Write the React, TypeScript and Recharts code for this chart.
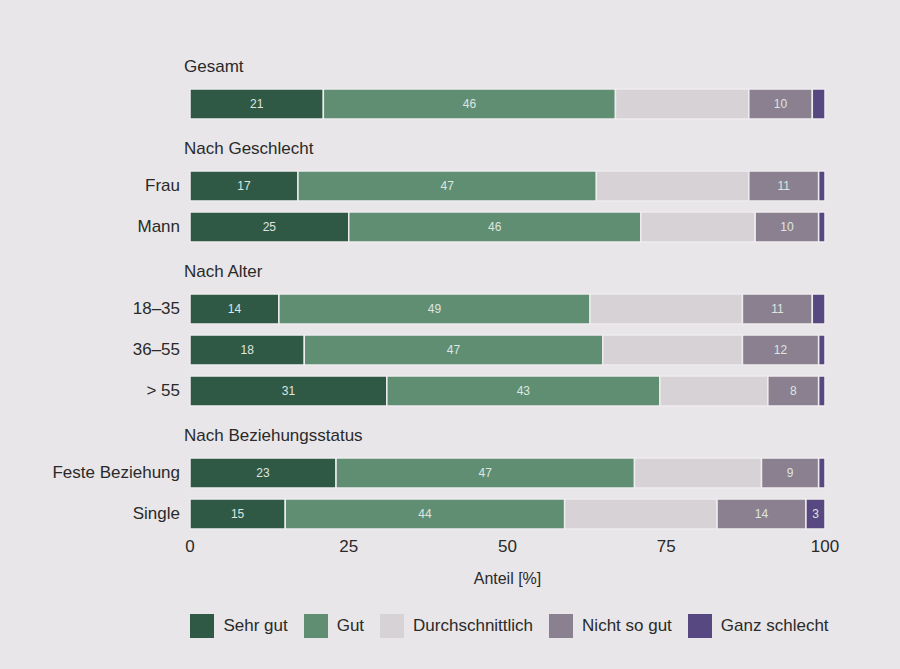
import React from "react";
import { Bar, BarChart, LabelList, Legend, XAxis, YAxis } from "recharts";

// Gruppen und Zeilen (Anteile in %)
const groups = ["Gesamt", "Nach Geschlecht", "Nach Alter", "Nach Beziehungsstatus"];
const rowLabels = ["", "Frau", "Mann", "18–35", "36–55", "> 55", "Feste Beziehung", "Single"];
const rowGroup = [0, 1, 1, 2, 2, 2, 3, 3];

const sehrGut = [21, 17, 25, 14, 18, 31, 23, 15];
const gut = [46, 47, 46, 49, 47, 43, 47, 44];
const durchschnittlich = [21, 24, 18, 24, 22, 17, 20, 24];
const nichtSoGut = [10, 11, 10, 11, 12, 8, 9, 14];
const ganzSchlecht = [2, 1, 1, 2, 1, 1, 1, 3];

const xTicks = [0, 25, 50, 75, 100];

const SERIES = [
  { key: "sehrGut", name: "Sehr gut", color: "#2f5945", label: true },
  { key: "gut", name: "Gut", color: "#5f8e73", label: true },
  { key: "durchschnittlich", name: "Durchschnittlich", color: "#d6d2d5", label: false },
  { key: "nichtSoGut", name: "Nicht so gut", color: "#8a8090", label: true },
  { key: "ganzSchlecht", name: "Ganz schlecht", color: "#574882", label: true },
];

const TEXT = "#2a2a2a";
const FONT = "'Liberation Sans', Arial, sans-serif";

// Kopfzeile je Gruppe, danach die Balkenzeilen
type Row = { id: string; label: string; header: boolean; [k: string]: any };
const rows: Row[] = [];
groups.forEach((g, gi) => {
  rows.push({ id: "h" + gi, label: g, header: true });
  rowLabels.forEach((lab, i) => {
    if (rowGroup[i] !== gi) return;
    rows.push({
      id: "r" + i,
      label: lab,
      header: false,
      sehrGut: sehrGut[i],
      gut: gut[i],
      durchschnittlich: durchschnittlich[i],
      nichtSoGut: nichtSoGut[i],
      ganzSchlecht: ganzSchlecht[i],
    });
  });
});

const YTick = (props: any) => {
  const { x, y, payload } = props;
  const row = rows.find((r) => r.id === payload.value);
  if (!row) return null;
  if (row.header) {
    return (
      <text x={x + 4} y={y + 4} textAnchor="start" dominantBaseline="central" fontSize={17} fill={TEXT} fontFamily={FONT}>
        {row.label}
      </text>
    );
  }
  return (
    <text x={x} y={y} textAnchor="end" dominantBaseline="central" fontSize={17} fill={TEXT} fontFamily={FONT}>
      {row.label}
    </text>
  );
};

const makeLabel = (minValue: number) => (props: any) => {
  const { x, y, width, height, value } = props;
  if (value == null || value < minValue) return null;
  return (
    <text
      x={x + width / 2}
      y={y + height / 2}
      textAnchor="middle"
      dominantBaseline="central"
      fontSize={12}
      fill="#dfe6e1"
      fontFamily={FONT}
    >
      {value}
    </text>
  );
};

const LegendContent = () => (
  <div
    style={{
      display: "flex",
      justifyContent: "center",
      alignItems: "center",
      paddingTop: 16,
      fontFamily: FONT,
      fontSize: 17,
      color: TEXT,
      whiteSpace: "nowrap",
    }}
  >
    {SERIES.map((s) => (
      <div key={s.key} style={{ display: "flex", alignItems: "center", marginRight: 16, flexShrink: 0 }}>
        <span style={{ display: "inline-block", width: 24, height: 24, background: s.color, marginRight: 9 }} />
        <span>{s.name}</span>
      </div>
    ))}
  </div>
);

export default function App() {
  return (
    <div style={{ position: "absolute", left: 0, top: 0, width: 900, height: 669, background: "#e8e6e8" }}>
      <BarChart
        width={900}
        height={669}
        data={rows}
        layout="vertical"
        margin={{ top: 42, right: 75, bottom: 19, left: 0 }}
        barSize={30}
      >
        <XAxis
          type="number"
          domain={[0, 100]}
          ticks={xTicks}
          axisLine={false}
          tickLine={false}
          tickSize={0}
          tickMargin={6}
          height={64}
          tick={{ fontSize: 17, fill: TEXT, fontFamily: FONT }}
          label={{ value: "Anteil [%]", position: "insideBottom", offset: 14, fontSize: 16, fill: TEXT, fontFamily: FONT }}
        />
        <YAxis
          type="category"
          dataKey="id"
          width={190}
          interval={0}
          axisLine={false}
          tickLine={false}
          tickSize={0}
          tickMargin={10}
          tick={YTick}
        />
        {SERIES.map((s) => (
          <Bar
            key={s.key}
            dataKey={s.key}
            name={s.name}
            stackId="a"
            fill={s.color}
            stroke="#eeecee"
            strokeWidth={1.5}
            isAnimationActive={false}
          >
            {s.label && <LabelList dataKey={s.key} content={makeLabel(s.key === "ganzSchlecht" ? 3 : 1)} />}
          </Bar>
        ))}
        <Legend
          verticalAlign="bottom"
          height={52}
          wrapperStyle={{ left: 100, width: 835 }}
          content={LegendContent}
        />
      </BarChart>
    </div>
  );
}
